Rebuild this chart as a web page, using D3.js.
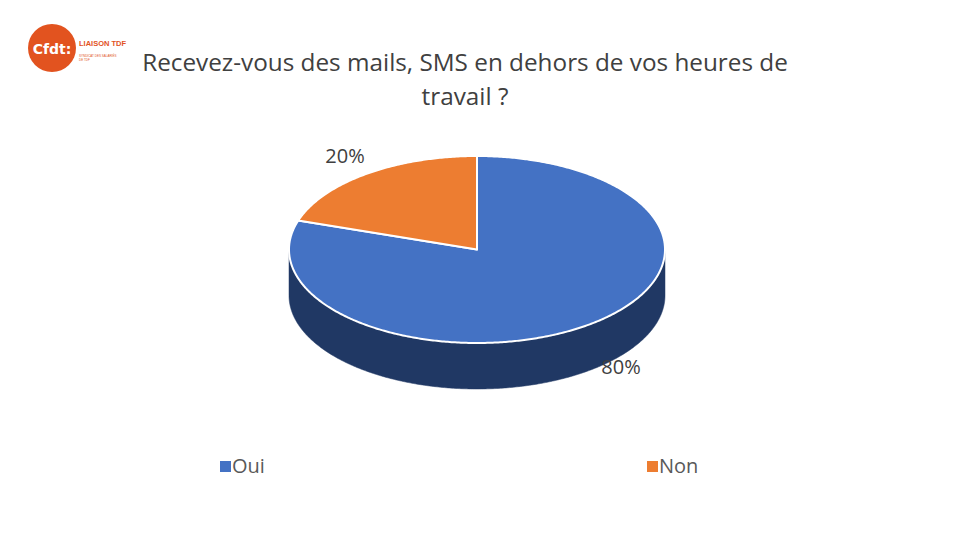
<!DOCTYPE html>
<html><head><meta charset="utf-8">
<script src="https://cdn.jsdelivr.net/npm/d3@7"></script>
<style>html,body{margin:0;padding:0;background:#fff;}svg{display:block;}</style>
</head><body>
<svg id="chart" width="960" height="540"></svg>
<script>
const categories = ["Oui", "Non"];
const values = [80, 20];
const labels = ["80%", "20%"];
const colors = ["#4472C4", "#ED7D31"];
const sideColors = ["#203864", "#9E4A14"];
const titleLines = ["Recevez-vous des mails, SMS en dehors de vos heures de", "travail ?"];

const svg = d3.select("#chart");
const font = "'Open Sans', 'Noto Sans', sans-serif";

// logo
const logo = svg.append("g");
logo.append("circle").attr("cx", 52).attr("cy", 48).attr("r", 24).attr("fill", "#E2531F");
logo.append("text").attr("x", 52).attr("y", 54).attr("text-anchor", "middle")
  .attr("font-family", "'DejaVu Sans', sans-serif").attr("font-weight", "bold")
  .attr("font-size", 14).attr("fill", "#fff").text("Cfdt:");
logo.append("text").attr("x", 79).attr("y", 46).attr("font-family", "'Liberation Sans', sans-serif")
  .attr("font-weight", "bold").attr("font-size", 7.5).attr("fill", "#E2531F").text("LIAISON TDF");
logo.append("text").attr("x", 79).attr("y", 57).attr("font-family", "'Liberation Sans', sans-serif")
  .attr("font-size", 3).attr("fill", "#E2531F").text("SYNDICAT DES SALARIÉS");
logo.append("text").attr("x", 79).attr("y", 61).attr("font-family", "'Liberation Sans', sans-serif")
  .attr("font-size", 3).attr("fill", "#E2531F").text("DE TDF");

// title
svg.append("g").selectAll("text").data(titleLines).join("text")
  .attr("x", 465).attr("y", (d, i) => 71 + i * 34)
  .attr("text-anchor", "middle").attr("font-family", font).attr("font-size", 24.3)
  .attr("fill", "#404040").text(d => d);

// pie geometry
const cx = 477, cy = 249.5, rx = 188, ry = 93.5, depth = 46;
const pie = d3.pie().sort(null).value(d => d)(values);
const pt = (a, dy = 0) => [cx + rx * Math.sin(a), cy - ry * Math.cos(a) + dy];
const line = d3.line();
const arcPts = (a0, a1, dy = 0) => {
  const n = Math.max(2, Math.ceil((a1 - a0) / 0.01));
  return d3.range(n + 1).map(i => pt(a0 + (a1 - a0) * i / n, dy));
};

const g = svg.append("g");
// side walls (visible front half: angles PI/2 .. 3PI/2)
pie.forEach((p, i) => {
  const a0 = Math.max(p.startAngle, Math.PI / 2), a1 = Math.min(p.endAngle, 3 * Math.PI / 2);
  if (a1 <= a0) return;
  const pts = arcPts(a0, a1).concat(arcPts(a0, a1, depth).reverse());
  g.append("path").attr("d", line(pts) + "Z").attr("fill", sideColors[i])
    .attr("stroke", sideColors[i]).attr("stroke-width", 0.5);
});
// top faces
pie.forEach((p, i) => {
  const pts = [[cx, cy]].concat(arcPts(p.startAngle, p.endAngle));
  g.append("path").attr("d", line(pts) + "Z").attr("fill", colors[i])
    .attr("stroke", "#fff").attr("stroke-width", 2).attr("stroke-linejoin", "round");
});

// data labels
const labelPos = [[621, 374], [345, 163]];
svg.append("g").selectAll("text").data(labels).join("text")
  .attr("x", (d, i) => labelPos[i][0]).attr("y", (d, i) => labelPos[i][1])
  .attr("text-anchor", "middle").attr("font-family", font).attr("font-size", 20)
  .attr("fill", "#404040").text(d => d);

// legend
const legendX = [220, 647];
const leg = svg.append("g").selectAll("g").data(categories).join("g")
  .attr("transform", (d, i) => `translate(${legendX[i]},461)`);
leg.append("rect").attr("width", 11).attr("height", 11).attr("fill", (d, i) => colors[i]);
leg.append("text").attr("x", 12).attr("y", 12).attr("font-family", font).attr("font-size", 20)
  .attr("fill", "#595959").text(d => d);
</script>
</body></html>
